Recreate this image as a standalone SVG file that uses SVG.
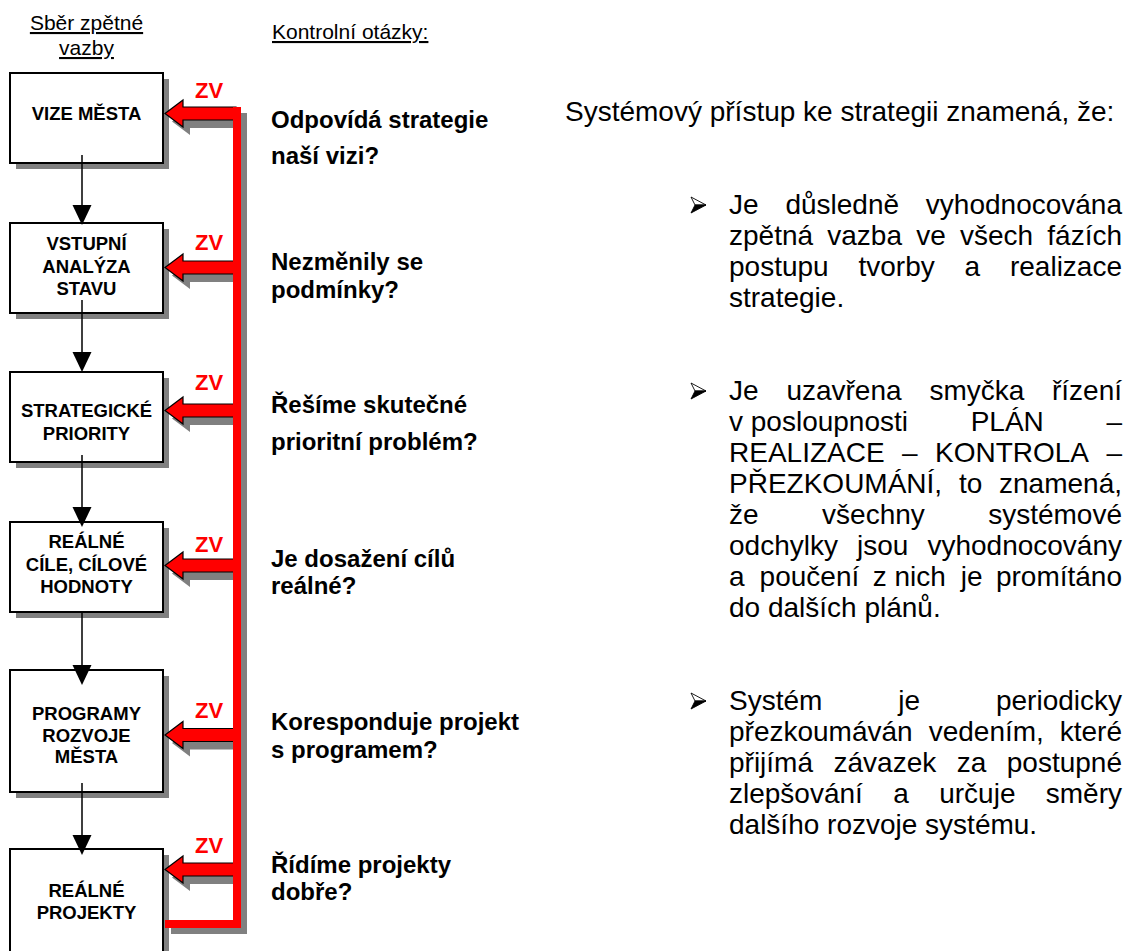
<svg xmlns="http://www.w3.org/2000/svg" width="1148" height="951" viewBox="0 0 1148 951">
  <style>
    text { font-family: "Liberation Sans", Arial, sans-serif; fill: #000; }
    .hdr { font-size: 21px; text-decoration: underline; }
    .lbl { font-size: 18.5px; font-weight: bold; text-anchor: middle; }
    .q { font-size: 24px; font-weight: bold; }
    .zv { font-size: 22px; font-weight: bold; fill: #ff0000; }
    .body { font-size: 28px; }
    .end { text-anchor: end; }
    .box { fill: #fff; stroke: #000; stroke-width: 2; }
    .shadow { fill: #808080; }
    .flow { stroke: #000; stroke-width: 1.5; fill: none; }
    .head { fill: #000; }
    .fb { fill: #ff0000; stroke: #000; stroke-width: 1.2; stroke-linejoin: miter; }
    .bar { fill: #ff0000; }
  </style>
  <defs>
    <!-- feedback block arrow, tip at origin, pointing left -->
    <path id="fbArrow" d="M0 0 L18 -13.5 L18 -6.5 L71 -6.5 L71 6.5 L18 6.5 L18 13.5 Z"/>
    <!-- top-lit arrowhead bullet -->
    <g id="bullet">
      <path d="M0 -17 L15 -9 L4 -9 Z" fill="#fff" stroke="#000" stroke-width="0.9"/>
      <path d="M0 -1 L15 -9 L4 -9 Z" fill="#000" stroke="#000" stroke-width="0.9"/>
    </g>
  </defs>

  <!-- column headers -->
  <text class="hdr" x="86.5" y="30" text-anchor="middle">Sběr zpětné</text>
  <text class="hdr" x="86.5" y="55" text-anchor="middle">vazby</text>
  <text class="hdr" x="272" y="39">Kontrolní otázky:</text>

  <!-- shadows -->
  <g id="shadows">
    <path class="shadow" d="M171 926 H239 V113 H247 V934 H171 Z"/>
    <use href="#fbArrow" class="shadow" x="172" y="121.5"/>
    <use href="#fbArrow" class="shadow" x="172" y="275.5"/>
    <use href="#fbArrow" class="shadow" x="172" y="418.5"/>
    <use href="#fbArrow" class="shadow" x="172" y="573.5"/>
    <use href="#fbArrow" class="shadow" x="172" y="743"/>
    <use href="#fbArrow" class="shadow" x="172" y="877.5"/>
    <rect class="shadow" x="16" y="79" width="153" height="90"/>
    <rect class="shadow" x="16" y="229" width="153" height="90"/>
    <rect class="shadow" x="16" y="378" width="153" height="90"/>
    <rect class="shadow" x="16" y="528" width="153" height="90"/>
    <rect class="shadow" x="16" y="676" width="153" height="122"/>
    <rect class="shadow" x="16" y="855" width="153" height="120"/>
  </g>

  <!-- nodes -->
  <g id="node-vize">
    <rect class="box" x="10" y="73" width="153" height="90"/>
    <text class="lbl" x="86.5" y="120">VIZE MĚSTA</text>
  </g>
  <g id="node-analyza">
    <rect class="box" x="10" y="223" width="153" height="90"/>
    <text class="lbl" x="86.5" y="250">VSTUPNÍ</text>
    <text class="lbl" x="86.5" y="273">ANALÝZA</text>
    <text class="lbl" x="86.5" y="295">STAVU</text>
  </g>
  <g id="node-priority">
    <rect class="box" x="10" y="372" width="153" height="90"/>
    <text class="lbl" x="86.5" y="417">STRATEGICKÉ</text>
    <text class="lbl" x="86.5" y="440">PRIORITY</text>
  </g>
  <g id="node-cile">
    <rect class="box" x="10" y="522" width="153" height="90"/>
    <text class="lbl" x="86.5" y="548">REÁLNÉ</text>
    <text class="lbl" x="86.5" y="571">CÍLE, CÍLOVÉ</text>
    <text class="lbl" x="86.5" y="593">HODNOTY</text>
  </g>
  <g id="node-programy">
    <rect class="box" x="10" y="670" width="153" height="122"/>
    <text class="lbl" x="86.5" y="720">PROGRAMY</text>
    <text class="lbl" x="86.5" y="742">ROZVOJE</text>
    <text class="lbl" x="86.5" y="763">MĚSTA</text>
  </g>
  <g id="node-projekty">
    <rect class="box" x="10" y="849" width="153" height="120"/>
    <text class="lbl" x="86.5" y="897">REÁLNÉ</text>
    <text class="lbl" x="86.5" y="919">PROJEKTY</text>
  </g>

  <!-- connectors -->
  <g id="connectors">
    <path class="flow" d="M82 155 V206 M82 300 V353 M82 455 V508 M82 612 V666 M82 783 V836"/>
    <path class="head" d="M72.5 205 H91.5 L82 225 Z"/>
    <path class="head" d="M72.5 352 H91.5 L82 372 Z"/>
    <path class="head" d="M72.5 507 H91.5 L82 527 Z"/>
    <path class="head" d="M72.5 665 H91.5 L82 685 Z"/>
    <path class="head" d="M72.5 835 H91.5 L82 855 Z"/>

    <!-- feedback loop -->
    <use href="#fbArrow" class="fb" x="165" y="113.5"/>
    <use href="#fbArrow" class="fb" x="165" y="267.5"/>
    <use href="#fbArrow" class="fb" x="165" y="410.5"/>
    <use href="#fbArrow" class="fb" x="165" y="565.5"/>
    <use href="#fbArrow" class="fb" x="165" y="735"/>
    <use href="#fbArrow" class="fb" x="165" y="869.5"/>
    <path class="bar" d="M165 920 H233 V107 H241 V928 H165 Z"/>

    <text class="zv" x="195" y="98">ZV</text>
    <text class="zv" x="195" y="250">ZV</text>
    <text class="zv" x="195" y="390">ZV</text>
    <text class="zv" x="195" y="552">ZV</text>
    <text class="zv" x="195" y="718">ZV</text>
    <text class="zv" x="195" y="853">ZV</text>
  </g>

  <!-- control questions -->
  <g id="questions">
    <text class="q" x="271" y="128">Odpovídá strategie</text>
    <text class="q" x="271" y="164">naší vizi?</text>
    <text class="q" x="271" y="270">Nezměnily se</text>
    <text class="q" x="271" y="298">podmínky?</text>
    <text class="q" x="271" y="413">Řešíme skutečné</text>
    <text class="q" x="271" y="450">prioritní problém?</text>
    <text class="q" x="271" y="567">Je dosažení cílů</text>
    <text class="q" x="271" y="594">reálné?</text>
    <text class="q" x="271" y="730">Koresponduje projekt</text>
    <text class="q" x="271" y="758">s programem?</text>
    <text class="q" x="271" y="873">Řídíme projekty</text>
    <text class="q" x="271" y="900">dobře?</text>
  </g>

  <!-- description -->
  <g id="description" class="body">
    <text class="body" x="565" y="121">Systémový přístup ke strategii znamená, že:</text>

    <use href="#bullet" x="691" y="214"/>
    <text class="body" y="214"><tspan x="729">Je</tspan><tspan x="785.4">důsledně</tspan></text>
    <text class="body end" x="1122" y="214">vyhodnocována</text>
    <text class="body" y="245"><tspan x="729">zpětná</tspan><tspan x="827.3">vazba</tspan><tspan x="916.2">ve</tspan><tspan x="960">všech</tspan></text>
    <text class="body end" x="1122" y="245">fázích</text>
    <text class="body" y="276"><tspan x="729">postupu</tspan><tspan x="858.5">tvorby</tspan><tspan x="964.6">a</tspan></text>
    <text class="body end" x="1122" y="276">realizace</text>
    <text class="body" x="729" y="307">strategie.</text>

    <use href="#bullet" x="691" y="400"/>
    <text class="body" y="400"><tspan x="729">Je</tspan><tspan x="786.4">uzavřena</tspan><tspan x="929.4">smyčka</tspan></text>
    <text class="body end" x="1122" y="400">řízení</text>
    <text class="body" y="431"><tspan x="729">v posloupnosti</tspan><tspan x="970.7">PLÁN</tspan></text>
    <text class="body end" x="1122" y="431">–</text>
    <text class="body" y="462"><tspan x="729">REALIZACE</tspan><tspan x="902">–</tspan><tspan x="935">KONTROLA</tspan></text>
    <text class="body end" x="1122" y="462">–</text>
    <text class="body" y="493"><tspan x="729">PŘEZKOUMÁNÍ,</tspan><tspan x="958.9">to</tspan></text>
    <text class="body end" x="1122" y="493">znamená,</text>
    <text class="body" y="524"><tspan x="729">že</tspan><tspan x="822.1">všechny</tspan></text>
    <text class="body end" x="1122" y="524">systémové</text>
    <text class="body" y="555"><tspan x="729">odchylky</tspan><tspan x="857">jsou</tspan></text>
    <text class="body end" x="1122" y="555">vyhodnocovány</text>
    <text class="body" y="586"><tspan x="729">a</tspan><tspan x="759.6">poučení</tspan><tspan x="872.7">z nich</tspan><tspan x="960.8">je</tspan></text>
    <text class="body end" x="1122" y="586">promítáno</text>
    <text class="body" x="729" y="617">do dalších plánů.</text>

    <use href="#bullet" x="691" y="710"/>
    <text class="body" y="710"><tspan x="729">Systém</tspan><tspan x="898.3">je</tspan></text>
    <text class="body end" x="1122" y="710">periodicky</text>
    <text class="body" y="741"><tspan x="729">přezkoumáván</tspan><tspan x="928.7">vedením,</tspan></text>
    <text class="body end" x="1122" y="741">které</text>
    <text class="body" y="772"><tspan x="729">přijímá</tspan><tspan x="833.5">závazek</tspan><tspan x="956.7">za</tspan></text>
    <text class="body end" x="1122" y="772">postupné</text>
    <text class="body" y="803"><tspan x="729">zlepšování</tspan><tspan x="893.2">a</tspan><tspan x="939.2">určuje</tspan></text>
    <text class="body end" x="1122" y="803">směry</text>
    <text class="body" x="729" y="834">dalšího rozvoje systému.</text>
  </g>
</svg>
